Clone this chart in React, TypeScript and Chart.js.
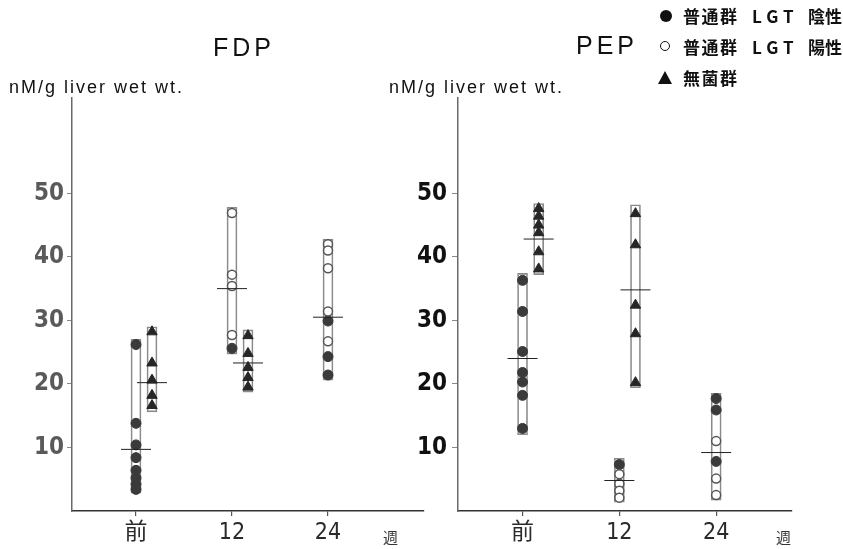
import React, { useEffect, useRef } from 'react';
import { Chart, registerables } from 'chart.js';

Chart.register(...registerables);

// ---- axes ----
const xTickLabels = ['前', '12', '24'];
const weeks = [0, 12, 24];
const yTickValues = [10, 20, 30, 40, 50];
const yMax = 65;
const germFreeOffset = 2; // germ-free column sits beside the normal column (in weeks)

// ---- FDP (index = week) ----
const fdpNegative = [[26.2, 13.8, 10.4, 8.4, 6.4, 5.2, 4.2, 3.4], [25.6], [29.9, 24.3, 21.4]];
const fdpPositive = [[], [46.9, 37.2, 35.4, 27.7], [42.0, 41.0, 38.2, 31.4, 26.7]];
const fdpGermFree = [[28.2, 23.3, 20.6, 18.2, 16.6], [27.6, 24.8, 22.6, 21.0, 19.5], []];
const fdpNormalMean = [9.7, 35.0, 30.5];
const fdpGermFreeMean = [20.2, 23.3, null];
const fdpNormalRange = [[2.8, 27.0], [24.7, 47.8], [20.6, 42.8]];
const fdpGermFreeRange = [[15.6, 29.0], [18.7, 28.5], null];

// ---- PEP ----
const pepNegative = [[36.3, 31.4, 25.1, 21.8, 20.3, 18.2, 13.0], [7.3], [17.7, 15.9, 7.8]];
const pepPositive = [[], [5.8, 4.3, 3.2, 2.1], [11.0, 5.1, 2.5]];
const pepGermFree = [[47.6, 46.4, 45.0, 43.8, 40.8, 38.1], [46.8, 41.9, 32.4, 27.9, 20.2], []];
const pepNormalMean = [24.0, 4.8, 9.2];
const pepGermFreeMean = [42.8, 34.8, null];
const pepNormalRange = [[12.0, 37.4], [1.4, 8.3], [1.7, 18.5]];
const pepGermFreeRange = [[37.2, 48.4], [19.4, 48.2], null];

type PanelData = {
  neg: number[][];
  pos: number[][];
  gf: number[][];
  normalMean: (number | null)[];
  gfMean: (number | null)[];
  normalRange: (number[] | null)[];
  gfRange: (number[] | null)[];
};

type PanelLayout = {
  xMin: number;
  xMax: number;
  yAxisWidth: number;
  rightPad: number;
  tickColor: string;
  tickLength: number;
  tickPadding: number;
};

const tickFont = "'Liberation Sans Narrow', 'DejaVu Sans Condensed', 'Noto Sans CJK JP', sans-serif";

function pts(groups: number[][], offset: number) {
  const out: { x: number; y: number }[] = [];
  groups.forEach((g, i) => g.forEach((v) => out.push({ x: weeks[i] + offset, y: v })));
  return out;
}
function means(vals: (number | null)[], offset: number) {
  const out: { x: number; y: number }[] = [];
  vals.forEach((v, i) => {
    if (v !== null) out.push({ x: weeks[i] + offset, y: v });
  });
  return out;
}
function ranges(vals: (number[] | null)[], offset: number) {
  const out: { x: number; y: number[] }[] = [];
  vals.forEach((r, i) => {
    if (r) out.push({ x: weeks[i] + offset, y: r });
  });
  return out;
}

function makeConfig(d: PanelData, l: PanelLayout): any {
  return {
    type: 'bar',
    data: {
      datasets: [
        {
          type: 'bar',
          data: [...ranges(d.normalRange, 0), ...ranges(d.gfRange, germFreeOffset)],
          backgroundColor: 'rgba(0,0,0,0)',
          borderColor: '#8a8a8a',
          borderWidth: 1,
          borderSkipped: false,
          barThickness: 10,
          grouped: false,
          order: 10,
        },
        {
          type: 'scatter',
          data: pts(d.neg, 0),
          pointStyle: 'circle',
          pointRadius: 5,
          pointHoverRadius: 5,
          pointBackgroundColor: '#3a3a3a',
          pointBorderColor: '#3a3a3a',
          pointBorderWidth: 1,
          order: 3,
        },
        {
          type: 'scatter',
          data: pts(d.pos, 0),
          pointStyle: 'circle',
          pointRadius: 4.5,
          pointHoverRadius: 4.5,
          pointBackgroundColor: '#ffffff',
          pointBorderColor: '#555555',
          pointBorderWidth: 1.5,
          order: 2,
        },
        {
          type: 'scatter',
          data: pts(d.gf, germFreeOffset),
          pointStyle: 'triangle',
          pointRadius: 6,
          pointHoverRadius: 6,
          pointBackgroundColor: '#262626',
          pointBorderColor: '#262626',
          pointBorderWidth: 1,
          order: 1,
        },
        {
          type: 'scatter',
          data: [...means(d.normalMean, 0), ...means(d.gfMean, germFreeOffset)],
          pointStyle: 'line',
          pointRadius: 15,
          pointHoverRadius: 15,
          pointBorderColor: '#222222',
          pointBorderWidth: 1,
          order: 0,
        },
      ],
    },
    options: {
      animation: false,
      responsive: false,
      devicePixelRatio: 1,
      events: [],
      layout: { padding: { top: 98, right: l.rightPad, left: 0, bottom: 0 } },
      plugins: { legend: { display: false }, tooltip: { enabled: false }, title: { display: false } },
      scales: {
        x: {
          type: 'linear',
          min: l.xMin,
          max: l.xMax,
          offset: false,
          afterBuildTicks: (s: any) => {
            s.ticks = weeks.map((v) => ({ value: v }));
          },
          afterFit: (s: any) => {
            s.height = 38;
          },
          ticks: {
            autoSkip: false,
            maxRotation: 0,
            padding: 3,
            color: '#2a2a2a',
            font: { family: tickFont, size: 23 },
            callback: (v: number) => {
              const i = weeks.indexOf(v);
              return i >= 0 ? xTickLabels[i] : '';
            },
          },
          grid: {
            offset: false,
            drawOnChartArea: false,
            drawTicks: true,
            tickLength: 5,
            color: '#555',
            lineWidth: 1.2,
          },
          border: { display: true, color: '#333', width: 1.5 },
        },
        y: {
          type: 'linear',
          min: 0,
          max: yMax,
          afterBuildTicks: (s: any) => {
            s.ticks = yTickValues.map((v) => ({ value: v }));
          },
          afterFit: (s: any) => {
            s.width = l.yAxisWidth;
          },
          ticks: {
            padding: l.tickPadding,
            color: l.tickColor,
            font: { family: tickFont, size: 24, weight: 'bold' },
          },
          grid: { drawOnChartArea: false, drawTicks: true, tickLength: l.tickLength, color: '#888', lineWidth: 1 },
          border: { display: true, color: '#6a6a6a', width: 1.5 },
        },
      },
    },
  };
}

const fdpData: PanelData = {
  neg: fdpNegative,
  pos: fdpPositive,
  gf: fdpGermFree,
  normalMean: fdpNormalMean,
  gfMean: fdpGermFreeMean,
  normalRange: fdpNormalRange,
  gfRange: fdpGermFreeRange,
};
const pepData: PanelData = {
  neg: pepNegative,
  pos: pepPositive,
  gf: pepGermFree,
  normalMean: pepNormalMean,
  gfMean: pepGermFreeMean,
  normalRange: pepNormalRange,
  gfRange: pepGermFreeRange,
};

function Panel({ data, layout, left, width }: { data: PanelData; layout: PanelLayout; left: number; width: number }) {
  const ref = useRef<HTMLCanvasElement>(null);
  useEffect(() => {
    const chart = new Chart(ref.current as HTMLCanvasElement, makeConfig(data, layout));
    return () => chart.destroy();
  }, []);
  return (
    <canvas
      ref={ref}
      width={width}
      height={549}
      style={{ position: 'absolute', left, top: 0, width, height: 549 }}
    />
  );
}

const titleStyle: React.CSSProperties = {
  position: 'absolute',
  fontFamily: "'Liberation Sans', Arial, sans-serif",
  fontSize: 25,
  lineHeight: '25px',
  letterSpacing: 4,
  color: '#111',
  whiteSpace: 'nowrap',
};
const unitStyle: React.CSSProperties = {
  position: 'absolute',
  fontFamily: "'Liberation Sans', Arial, sans-serif",
  fontSize: 18,
  lineHeight: '18px',
  letterSpacing: 2,
  color: '#111',
  whiteSpace: 'nowrap',
};
const cjk = "'Noto Sans CJK JP', 'Noto Sans CJK SC', sans-serif";
const legendText: React.CSSProperties = {
  position: 'absolute',
  fontFamily: cjk,
  fontWeight: 'bold',
  fontSize: 17,
  lineHeight: '17px',
  color: '#111',
  whiteSpace: 'nowrap',
};
const weekStyle: React.CSSProperties = {
  position: 'absolute',
  fontFamily: cjk,
  fontSize: 15,
  lineHeight: '15px',
  color: '#333',
};

export default function App() {
  return (
    <div
      style={{
        position: 'fixed',
        left: 0,
        top: 0,
        width: 843,
        height: 549,
        background: '#fff',
        overflow: 'hidden',
      }}
    >
      <Panel
        data={fdpData}
        left={0}
        width={440}
        layout={{ xMin: -8, xMax: 36, yAxisWidth: 72, rightPad: 16, tickColor: '#5a5a5a', tickLength: 5, tickPadding: 3 }}
      />
      <Panel
        data={pepData}
        left={380}
        width={463}
        layout={{ xMin: -8, xMax: 33.4, yAxisWidth: 78, rightPad: 51, tickColor: '#111', tickLength: 6, tickPadding: 5 }}
      />

      <div style={{ ...titleStyle, left: 213, top: 35 }}>FDP</div>
      <div style={{ ...titleStyle, left: 576, top: 33 }}>PEP</div>

      <div style={{ ...unitStyle, left: 9, top: 78 }}>nM/g liver wet wt.</div>
      <div style={{ ...unitStyle, left: 389, top: 78 }}>nM/g liver wet wt.</div>

      <div style={{ ...weekStyle, left: 383, top: 529 }}>週</div>
      <div style={{ ...weekStyle, left: 776, top: 529 }}>週</div>

      {/* legend */}
      <div style={{ position: 'absolute', left: 660, top: 9.5, width: 12, height: 12, borderRadius: '50%', background: '#111' }} />
      <div
        style={{
          position: 'absolute',
          left: 659.5,
          top: 40.5,
          width: 8,
          height: 8,
          borderRadius: '50%',
          border: '1.6px solid #111',
        }}
      />
      <div
        style={{
          position: 'absolute',
          left: 658,
          top: 71,
          width: 0,
          height: 0,
          borderLeft: '7px solid transparent',
          borderRight: '7px solid transparent',
          borderBottom: '13px solid #111',
        }}
      />
      <div style={{ ...legendText, left: 683, top: 7, letterSpacing: 1.5 }}>普通群</div>
      <div style={{ ...legendText, left: 752, top: 7, letterSpacing: 5 }}>LGT</div>
      <div style={{ ...legendText, left: 808, top: 7 }}>陰性</div>
      <div style={{ ...legendText, left: 683, top: 37.5, letterSpacing: 1.5 }}>普通群</div>
      <div style={{ ...legendText, left: 752, top: 37.5, letterSpacing: 5 }}>LGT</div>
      <div style={{ ...legendText, left: 808, top: 37.5 }}>陽性</div>
      <div style={{ ...legendText, left: 683, top: 69, letterSpacing: 1.5 }}>無菌群</div>
    </div>
  );
}
